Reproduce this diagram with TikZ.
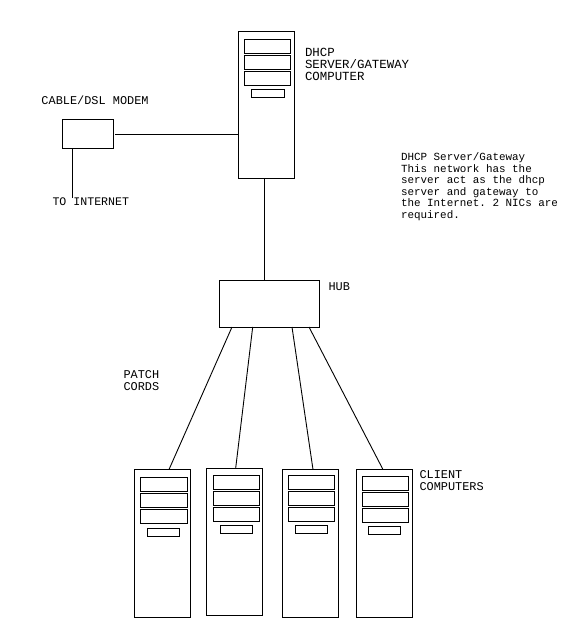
\documentclass[tikz,border=0pt]{standalone}
\usepackage{fontspec}
\setmonofont{Liberation Mono}
\newcommand{\boxat}[5]{%
  \pgfmathsetmacro{\bxc}{(#2+#4)/2}\pgfmathsetmacro{\byc}{(#3+#5)/2}%
  \pgfmathsetmacro{\bxw}{#4-#2}\pgfmathsetmacro{\byh}{#5-#3}%
  \node[boxshape,minimum width=\bxw pt,minimum height=\byh pt] (#1) at (\bxc,\byc) {};}
\newcommand{\tower}[7]{% name, left, top, right, bottom, drawer left, drawer top ; fixed drawer sizes
  \boxat{#1}{#2}{#3}{#4}{#5}
  \pgfmathsetmacro{\dl}{#6}\pgfmathsetmacro{\dt}{#7}
  \pgfmathsetmacro{\dr}{\dl+46.5}
  \pgfmathsetmacro{\dtb}{\dt+14}\pgfmathsetmacro{\dtc}{\dt+16}\pgfmathsetmacro{\dtd}{\dt+30}
  \pgfmathsetmacro{\dte}{\dt+32}\pgfmathsetmacro{\dtf}{\dt+46}
  \boxat{#1d1}{\dl}{\dt}{\dr}{\dtb}
  \boxat{#1d2}{\dl}{\dtc}{\dr}{\dtd}
  \boxat{#1d3}{\dl}{\dte}{\dr}{\dtf}
}
\tikzset{
  boxshape/.style={draw=black,line width=0.9pt,fill=white,inner sep=0pt,outer sep=0pt},
  wire/.style={draw=black,line width=0.9pt},
  lab/.style={font=\ttfamily\fontsize{11.9}{12}\selectfont,align=left,anchor=north west,inner sep=0pt,outer sep=0pt,text=black},
  note/.style={font=\ttfamily\fontsize{10.9}{11.6}\selectfont,align=left,anchor=north west,inner sep=0pt,outer sep=0pt,text=black}
}
\begin{document}
\begin{tikzpicture}[x=1pt,y=-1pt]
\useasboundingbox[fill=white] (0,0) rectangle (576,638);
% server
\tower{server}{238.5}{31}{294.5}{178}{244}{39}
\boxat{serverslot}{251}{89}{284}{97}
% modem and hub
\boxat{modem}{62}{119}{113}{148}
\boxat{hub}{219}{280}{319}{327}
% clients
\tower{ca}{134.5}{469.5}{190.5}{617}{140.5}{477}
\boxat{caslot}{147.5}{528}{179.5}{536}
\tower{cb}{206.5}{468}{262.5}{615}{213}{475}
\boxat{cbslot}{220}{525}{252}{533}
\tower{cc}{282}{469.5}{338}{617}{288}{475}
\boxat{ccslot}{295}{525}{327}{533}
\tower{cd}{356.5}{469.5}{412.5}{617}{362}{476}
\boxat{cdslot}{368.5}{526}{400.5}{534}
% connectors
\coordinate (modemgap) at (115,134);
\coordinate (inet) at (72.7,198);
\draw[wire] (modemgap) -- (server.west |- modemgap);
\draw[wire] (inet |- modem.south) -- (inet);
\draw[wire] (server.south -| 264,0) -- (hub.north -| 264,0);
\draw[wire] ([xshift=13pt]hub.south west) -- ([xshift=34.5pt]ca.north west);
\draw[wire] ([xshift=33.7pt]hub.south west) -- ([xshift=29.2pt]cb.north west);
\draw[wire] ([xshift=73pt]hub.south west) -- ([xshift=31pt]cc.north west);
\draw[wire] ([xshift=90pt]hub.south west) -- ([xshift=26.5pt]cd.north west);
% labels
\node[lab,font=\ttfamily\fontsize{12.4}{12}\selectfont] (serverlabel) at (305,48.5) {DHCP\\SERVER/GATEWAY\\COMPUTER};
\node[lab] (modemlabel) at (41.5,96) {CABLE/DSL MODEM};
\node[lab,font=\ttfamily\fontsize{11.6}{12}\selectfont] (inetlabel) at (52.5,197.5) {TO INTERNET};
\node[lab] (hublabel) at (328.5,282.5) {HUB};
\node[lab] (patchlabel) at (123.5,371) {PATCH\\CORDS};
\node[lab] (clientlabel) at (419.5,471) {CLIENT\\COMPUTERS};
\node[note] (notelabel) at (401,152.5) {DHCP Server/Gateway\\This network has the\\server act as the dhcp\\server and gateway to\\the Internet. 2 NICs are\\required.};
\end{tikzpicture}
\end{document}
